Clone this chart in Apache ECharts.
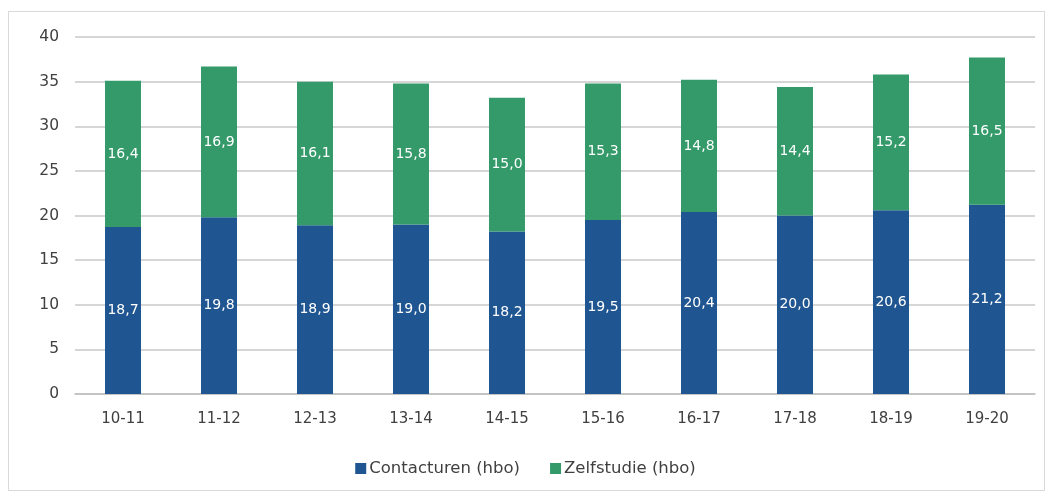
<!DOCTYPE html>
<html><head><meta charset="utf-8">
<script src="https://cdn.jsdelivr.net/npm/echarts@6/dist/echarts.min.js"></script>
<style>
html,body{margin:0;padding:0;background:#fff;}
#frame{position:absolute;left:8px;top:11px;width:1035px;height:478px;border:1px solid #d9d9d9;}
#chart{position:absolute;left:0;top:0;width:1051px;height:497px;}
</style></head>
<body>
<div id="frame"></div>
<div id="chart"></div>
<script>
const categories = ['10-11','11-12','12-13','13-14','14-15','15-16','16-17','17-18','18-19','19-20'];
const contacturen = [18.7,19.8,18.9,19.0,18.2,19.5,20.4,20.0,20.6,21.2];
const zelfstudie = [16.4,16.9,16.1,15.8,15.0,15.3,14.8,14.4,15.2,16.5];
const yTicks = {min:0,max:40,interval:5};

const font = 'DejaVu Sans';
const chart = echarts.init(document.getElementById('chart'));
const lbl = {show:true,position:'inside',color:'#fff',fontFamily:font,fontSize:14,
  formatter:p=>p.value.toFixed(1).replace('.',',')};
chart.setOption({
  animation:false,
  textStyle:{fontFamily:font},
  grid:{left:75,right:16,top:37,bottom:103,containLabel:false},
  legend:{top:455,left:'center',icon:'rect',itemWidth:11,itemHeight:11,itemGap:30,
    textStyle:{fontFamily:font,fontSize:16.5,color:'#404040',padding:[0,0,0,-2]},
    data:['Contacturen (hbo)','Zelfstudie (hbo)']},
  xAxis:{type:'category',data:categories,
    axisLine:{lineStyle:{color:'#bfbfbf',width:1.5}},axisTick:{show:false},
    axisLabel:{fontFamily:font,fontSize:15,color:'#404040',margin:18}},
  yAxis:{type:'value',min:yTicks.min,max:yTicks.max,interval:yTicks.interval,
    axisLine:{show:false},axisTick:{show:false},
    splitLine:{lineStyle:{color:'#c8c8c8',width:1.5}},
    axisLabel:{fontFamily:font,fontSize:15.5,color:'#404040',margin:16}},
  series:[
    {name:'Contacturen (hbo)',type:'bar',stack:'a',data:contacturen,barWidth:'37.5%',
     itemStyle:{color:'#1f5591'},label:lbl},
    {name:'Zelfstudie (hbo)',type:'bar',stack:'a',data:zelfstudie,barWidth:'37.5%',
     itemStyle:{color:'#349a69'},label:lbl}
  ]
});
</script>
</body></html>
